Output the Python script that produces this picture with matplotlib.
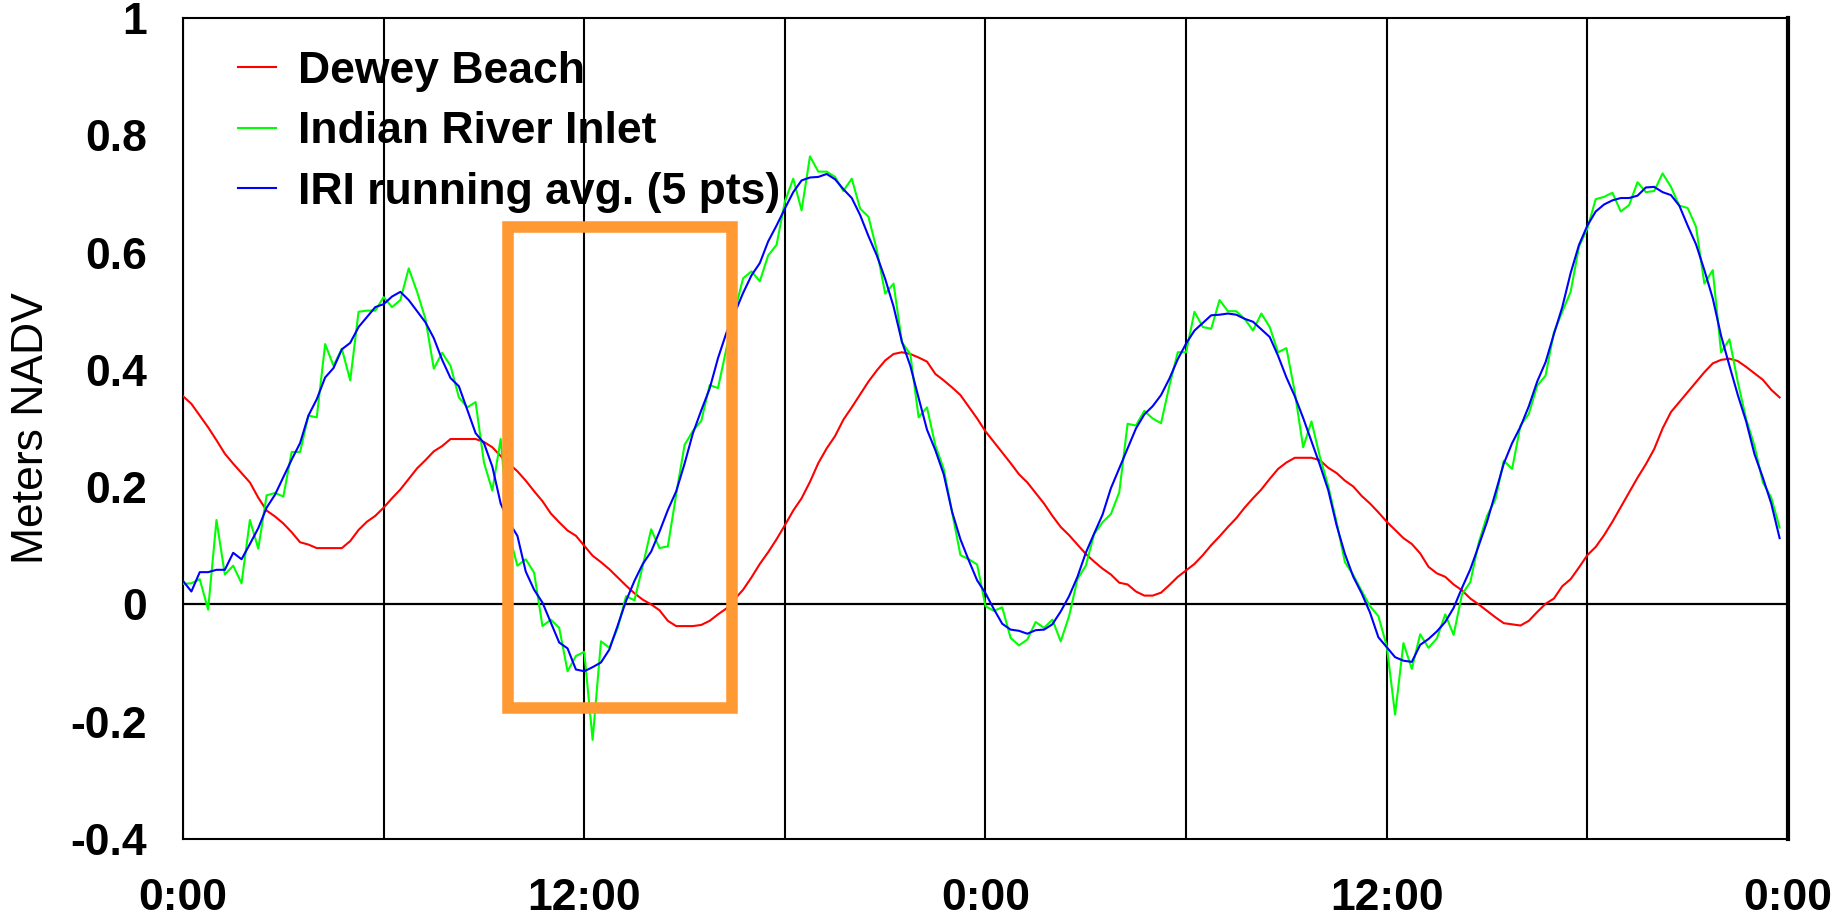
import matplotlib.pyplot as plt
from matplotlib.patches import Rectangle
import numpy as np

# water level (m NAVD), one value every 15 minutes over two days
dewey_beach = [
    0.355, 0.342, 0.322, 0.302, 0.280, 0.257, 0.240, 0.224,
    0.208, 0.182, 0.160, 0.150, 0.138, 0.123, 0.106, 0.102,
    0.096, 0.096, 0.096, 0.096, 0.108, 0.127, 0.141, 0.151,
    0.165, 0.181, 0.196, 0.214, 0.232, 0.246, 0.261, 0.270,
    0.282, 0.282, 0.282, 0.282, 0.277, 0.268, 0.253, 0.240,
    0.227, 0.211, 0.193, 0.176, 0.155, 0.140, 0.126, 0.117,
    0.100, 0.083, 0.072, 0.060, 0.046, 0.032, 0.019, 0.008,
    0.000, -0.010, -0.028, -0.037, -0.037, -0.037, -0.035, -0.028,
    -0.017, -0.007, 0.009, 0.025, 0.046, 0.069, 0.089, 0.111,
    0.135, 0.160, 0.181, 0.209, 0.241, 0.266, 0.287, 0.315,
    0.336, 0.358, 0.380, 0.399, 0.416, 0.427, 0.430, 0.427,
    0.421, 0.414, 0.393, 0.382, 0.370, 0.357, 0.337, 0.317,
    0.295, 0.277, 0.259, 0.241, 0.222, 0.208, 0.190, 0.172,
    0.151, 0.132, 0.118, 0.102, 0.086, 0.073, 0.061, 0.051,
    0.037, 0.034, 0.022, 0.015, 0.015, 0.020, 0.033, 0.047,
    0.058, 0.069, 0.084, 0.101, 0.116, 0.132, 0.147, 0.165,
    0.181, 0.196, 0.214, 0.231, 0.242, 0.250, 0.250, 0.250,
    0.246, 0.233, 0.224, 0.211, 0.201, 0.185, 0.172, 0.157,
    0.141, 0.127, 0.113, 0.103, 0.087, 0.064, 0.053, 0.047,
    0.034, 0.024, 0.010, 0.000, -0.011, -0.022, -0.032, -0.034,
    -0.036, -0.028, -0.013, 0.001, 0.010, 0.031, 0.043, 0.063,
    0.084, 0.098, 0.118, 0.141, 0.166, 0.191, 0.216, 0.239,
    0.265, 0.300, 0.328, 0.345, 0.362, 0.379, 0.396, 0.411,
    0.417, 0.419, 0.415, 0.405, 0.394, 0.383, 0.366, 0.353,
]

indian_river = [
    0.035, 0.036, 0.043, -0.009, 0.144, 0.051, 0.066, 0.036,
    0.144, 0.095, 0.186, 0.190, 0.184, 0.260, 0.260, 0.322,
    0.319, 0.444, 0.407, 0.436, 0.382, 0.499, 0.501, 0.501,
    0.524, 0.507, 0.519, 0.573, 0.533, 0.487, 0.402, 0.429,
    0.407, 0.353, 0.336, 0.345, 0.242, 0.194, 0.282, 0.120,
    0.066, 0.077, 0.054, -0.037, -0.026, -0.040, -0.114, -0.088,
    -0.081, -0.231, -0.063, -0.074, -0.040, 0.014, 0.007, 0.066,
    0.128, 0.096, 0.099, 0.188, 0.272, 0.296, 0.313, 0.374,
    0.369, 0.436, 0.500, 0.556, 0.568, 0.551, 0.595, 0.613,
    0.687, 0.726, 0.672, 0.764, 0.738, 0.738, 0.729, 0.705,
    0.726, 0.675, 0.661, 0.604, 0.530, 0.547, 0.447, 0.427,
    0.319, 0.336, 0.271, 0.231, 0.157, 0.084, 0.077, 0.068,
    -0.003, -0.011, -0.005, -0.057, -0.070, -0.060, -0.030, -0.040,
    -0.026, -0.063, -0.020, 0.043, 0.066, 0.120, 0.140, 0.154,
    0.191, 0.308, 0.305, 0.330, 0.317, 0.309, 0.373, 0.430,
    0.430, 0.499, 0.473, 0.470, 0.519, 0.500, 0.500, 0.487,
    0.467, 0.496, 0.473, 0.430, 0.437, 0.362, 0.268, 0.312,
    0.252, 0.202, 0.140, 0.072, 0.050, 0.023, -0.003, -0.020,
    -0.071, -0.188, -0.066, -0.110, -0.051, -0.074, -0.058, -0.017,
    -0.052, 0.017, 0.038, 0.105, 0.151, 0.179, 0.245, 0.231,
    0.305, 0.325, 0.373, 0.390, 0.464, 0.499, 0.533, 0.610,
    0.641, 0.691, 0.695, 0.702, 0.670, 0.681, 0.720, 0.703,
    0.705, 0.735, 0.712, 0.680, 0.676, 0.644, 0.547, 0.570,
    0.430, 0.452, 0.379, 0.316, 0.270, 0.208, 0.182, 0.131,
]

iri_avg = [
    0.040, 0.022, 0.055, 0.055, 0.059, 0.059, 0.088, 0.077,
    0.103, 0.130, 0.165, 0.187, 0.217, 0.247, 0.275, 0.322,
    0.350, 0.387, 0.403, 0.435, 0.446, 0.473, 0.490, 0.507,
    0.512, 0.525, 0.533, 0.519, 0.500, 0.481, 0.454, 0.417,
    0.386, 0.372, 0.332, 0.292, 0.275, 0.235, 0.172, 0.140,
    0.117, 0.056, 0.025, 0.003, -0.031, -0.065, -0.075, -0.111,
    -0.114, -0.107, -0.099, -0.077, -0.036, 0.006, 0.040, 0.069,
    0.090, 0.124, 0.161, 0.193, 0.240, 0.292, 0.331, 0.368,
    0.420, 0.463, 0.497, 0.531, 0.561, 0.582, 0.619, 0.646,
    0.675, 0.703, 0.723, 0.728, 0.729, 0.734, 0.725, 0.708,
    0.693, 0.664, 0.628, 0.595, 0.555, 0.508, 0.448, 0.407,
    0.352, 0.298, 0.263, 0.222, 0.158, 0.111, 0.075, 0.041,
    0.019, -0.008, -0.033, -0.043, -0.045, -0.050, -0.044, -0.043,
    -0.034, -0.012, 0.014, 0.047, 0.088, 0.121, 0.153, 0.198,
    0.232, 0.266, 0.300, 0.324, 0.338, 0.357, 0.385, 0.418,
    0.445, 0.467, 0.480, 0.493, 0.494, 0.496, 0.494, 0.487,
    0.482, 0.469, 0.456, 0.424, 0.387, 0.355, 0.318, 0.278,
    0.238, 0.195, 0.135, 0.086, 0.047, 0.019, -0.014, -0.056,
    -0.073, -0.090, -0.096, -0.098, -0.069, -0.059, -0.046, -0.030,
    -0.006, 0.028, 0.060, 0.100, 0.141, 0.190, 0.240, 0.275,
    0.303, 0.338, 0.380, 0.413, 0.461, 0.507, 0.565, 0.613,
    0.646, 0.670, 0.682, 0.689, 0.693, 0.693, 0.697, 0.711,
    0.712, 0.703, 0.698, 0.680, 0.646, 0.614, 0.570, 0.522,
    0.458, 0.407, 0.357, 0.312, 0.256, 0.216, 0.172, 0.113,
]

hour_ticks = [0, 12, 24, 36, 48]
hour_labels = ["0:00", "12:00", "0:00", "12:00", "0:00"]
grid_hours = [6, 18, 30, 42]
level_ticks = [-0.4, -0.2, 0, 0.2, 0.4, 0.6, 0.8, 1]

# highlighted low-tide window
window_hours = (9.72, 16.42)
window_levels = (-0.177, 0.643)

hours = np.arange(len(indian_river)) * 0.25

plt.rcParams['font.family'] = ['Liberation Sans', 'DejaVu Sans']

fig = plt.figure(figsize=(18.34, 9.18), dpi=100)
ax = fig.add_axes([0.0998, 0.0861, 0.8751, 0.8943])

ax.plot(hours, dewey_beach, color='#ff0000', lw=1.5, label='Dewey Beach', zorder=3)
ax.plot(hours, indian_river, color='#00ff00', lw=1.5, label='Indian River Inlet', zorder=3)
ax.plot(hours, iri_avg, color='#0000ff', lw=1.5, label='IRI running avg. (5 pts)', zorder=3)
ax.axhline(0, color='black', lw=1.6, zorder=2)

ax.add_patch(Rectangle((window_hours[0], window_levels[0]),
                       window_hours[1] - window_hours[0],
                       window_levels[1] - window_levels[0],
                       fill=False, edgecolor='#ff9933', lw=8.3,
                       joinstyle='miter', zorder=5))

ax.set_xlim(0, 48)
ax.set_ylim(-0.4, 1)
ax.set_xticks(hour_ticks)
ax.set_xticklabels(hour_labels)
ax.set_xticks(grid_hours, minor=True)
ax.set_yticks(level_ticks)
ax.set_yticklabels(['%g' % v for v in level_ticks])
ax.set_axisbelow(True)
ax.grid(axis='x', which='both', color='black', lw=1.5)

ax.tick_params(axis='both', which='both', length=0, labelsize=32)
ax.tick_params(axis='y', pad=26)
ax.tick_params(axis='x', pad=28)
for lab in ax.get_xticklabels() + ax.get_yticklabels():
    lab.set_fontweight('bold')

ax.set_ylabel('Meters NADV', fontsize=32)
ax.yaxis.set_label_coords(-0.0816, 0.5)

for s in ax.spines.values():
    s.set_linewidth(1.5)
ax.spines['right'].set_linewidth(3)

ax.legend(loc='upper left', bbox_to_anchor=(0.034, 0.960), frameon=False,
          prop={'weight': 'bold', 'size': 32}, handlelength=0.86,
          handletextpad=0.5, labelspacing=0.44, borderpad=0, borderaxespad=0)

fig.savefig('out.png', dpi=100)
